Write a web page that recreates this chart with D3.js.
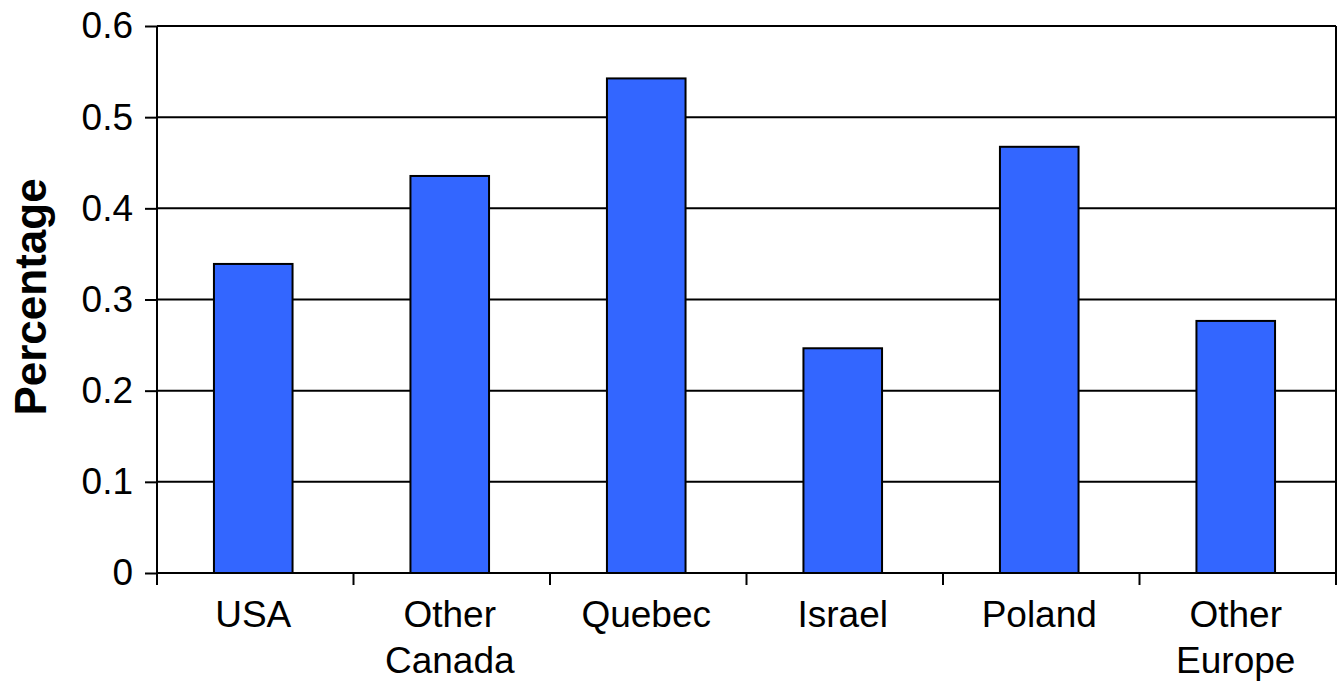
<!DOCTYPE html>
<html>
<head>
<meta charset="utf-8">
<script src="https://cdn.jsdelivr.net/npm/d3@7"></script>
<style>
  html, body { margin: 0; padding: 0; background: #fff; }
  svg { display: block; }
  text { font-family: "Liberation Sans", Arial, Helvetica, sans-serif; fill: #000; }
</style>
</head>
<body>
<svg id="chart" width="1344" height="683"></svg>
<script>
const categories = [["USA"], ["Other", "Canada"], ["Quebec"], ["Israel"], ["Poland"], ["Other", "Europe"]];
const values = [0.339, 0.4355, 0.5425, 0.2465, 0.4675, 0.2765];
const yTicks = [0, 0.1, 0.2, 0.3, 0.4, 0.5, 0.6];
const yTickLabels = ["0", "0.1", "0.2", "0.3", "0.4", "0.5", "0.6"];
const yTitle = "Percentage";

const svg = d3.select("#chart");
const m = { left: 157, right: 1336, top: 26, bottom: 573 };

const x = d3.scaleBand()
  .domain(d3.range(categories.length))
  .range([m.left, m.right])
  .paddingInner(0.6)
  .paddingOuter(0.3)
  .align(0.483);
const xBounds = d3.scaleLinear().domain([0, categories.length]).range([m.left, m.right]);
const y = d3.scaleLinear().domain([0, 0.6]).range([m.bottom, m.top]);

// gridlines
svg.append("g").selectAll("line")
  .data(yTicks.filter(d => d > 0))
  .join("line")
  .attr("x1", m.left).attr("x2", m.right)
  .attr("y1", d => y(d)).attr("y2", d => y(d))
  .attr("stroke", "#000").attr("stroke-width", 2);

// bars
svg.append("g").selectAll("rect")
  .data(values)
  .join("rect")
  .attr("x", (d, i) => x(i))
  .attr("width", x.bandwidth())
  .attr("y", d => y(d))
  .attr("height", d => y(0) - y(d))
  .attr("fill", "#3366FF")
  .attr("stroke", "#000")
  .attr("stroke-width", 2);

// y axis
const yAxis = d3.axisLeft(y)
  .tickValues(yTicks)
  .tickFormat((d, i) => yTickLabels[i])
  .tickSize(12)
  .tickPadding(12)
  .tickSizeOuter(0);
const gy = svg.append("g").attr("transform", `translate(${m.left},0)`).call(yAxis);
gy.select(".domain").remove();
gy.selectAll(".tick line").attr("stroke", "#000").attr("stroke-width", 2);
gy.selectAll(".tick text").attr("font-size", 37).attr("font-family", "Liberation Sans, Arial, sans-serif").attr("fill", "#000");

// x axis baseline
svg.append("line")
  .attr("x1", m.left).attr("x2", m.right)
  .attr("y1", y(0)).attr("y2", y(0))
  .attr("stroke", "#000").attr("stroke-width", 2);

// left and right frame lines extending below to tick length
svg.append("g").selectAll("line")
  .data([0, categories.length])
  .join("line")
  .attr("x1", d => xBounds(d)).attr("x2", d => xBounds(d))
  .attr("y1", m.top).attr("y2", m.bottom + 12)
  .attr("stroke", "#000").attr("stroke-width", 2);

// category boundary ticks
svg.append("g").selectAll("line")
  .data(d3.range(1, categories.length))
  .join("line")
  .attr("x1", d => xBounds(d)).attr("x2", d => xBounds(d))
  .attr("y1", m.bottom).attr("y2", m.bottom + 12)
  .attr("stroke", "#000").attr("stroke-width", 2);

// category labels
const labels = svg.append("g").selectAll("text")
  .data(categories)
  .join("text")
  .attr("text-anchor", "middle")
  .attr("font-size", 37)
  .attr("x", (d, i) => x(i) + x.bandwidth() / 2)
  .attr("y", 627);
labels.selectAll("tspan")
  .data(d => d)
  .join("tspan")
  .attr("x", function () { return d3.select(this.parentNode).attr("x"); })
  .attr("dy", (d, i) => i === 0 ? 0 : 46)
  .text(d => d);

// y title
svg.append("text")
  .attr("transform", `translate(46, ${297}) rotate(-90)`)
  .attr("text-anchor", "middle")
  .attr("font-size", 44)
  .attr("font-weight", "bold")
  .text(yTitle);
</script>
</body>
</html>
